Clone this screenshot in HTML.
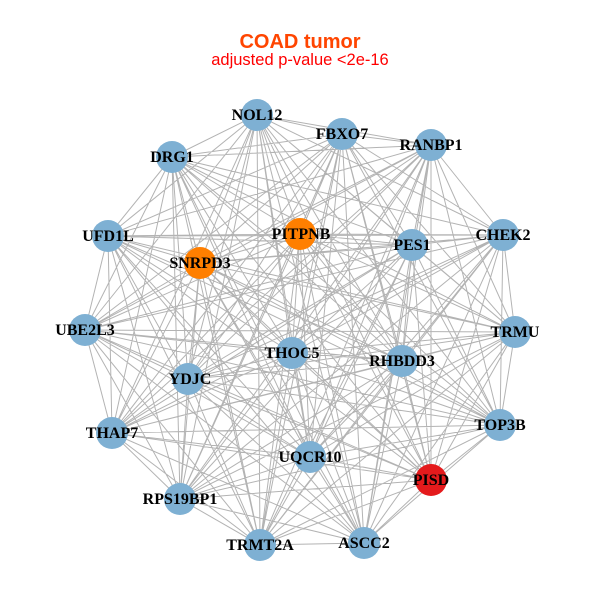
<!DOCTYPE html>
<html><head><meta charset="utf-8"><style>
html,body{margin:0;padding:0;background:#fff;}
svg{display:block;}
.lb{font-family:"Liberation Serif",serif;font-weight:bold;font-size:16px;fill:#000;text-anchor:middle;}
</style></head><body>
<svg id="s" width="600" height="600" viewBox="0 0 600 600" xmlns="http://www.w3.org/2000/svg">
<rect width="600" height="600" fill="#fff"/>
<text x="300" y="48" text-anchor="middle" font-family="Liberation Sans, sans-serif" font-weight="bold" font-size="20" fill="#FF4500">COAD tumor</text>
<text x="300" y="65" text-anchor="middle" font-family="Liberation Sans, sans-serif" font-size="16.5" fill="#FF0000">adjusted p-value &lt;2e-16</text>
<g id="edges" stroke="#b3b3b3" stroke-width="1" fill="none"></g>
<g id="nodes">
<circle cx="257" cy="115" r="16" fill="#7EB0D3"/>
<circle cx="342" cy="134" r="16" fill="#7EB0D3"/>
<circle cx="431" cy="145" r="16" fill="#7EB0D3"/>
<circle cx="172" cy="157" r="16" fill="#7EB0D3"/>
<circle cx="503" cy="235" r="16" fill="#7EB0D3"/>
<circle cx="300" cy="234" r="16" fill="#FF7F00"/>
<circle cx="412" cy="245" r="16" fill="#7EB0D3"/>
<circle cx="108" cy="236" r="16" fill="#7EB0D3"/>
<circle cx="200" cy="263" r="16" fill="#FF7F00"/>
<circle cx="85" cy="330" r="16" fill="#7EB0D3"/>
<circle cx="515" cy="332" r="16" fill="#7EB0D3"/>
<circle cx="292" cy="353" r="16" fill="#7EB0D3"/>
<circle cx="402" cy="361" r="16" fill="#7EB0D3"/>
<circle cx="188" cy="379" r="16" fill="#7EB0D3"/>
<circle cx="112" cy="433" r="16" fill="#7EB0D3"/>
<circle cx="500" cy="425" r="16" fill="#7EB0D3"/>
<circle cx="310" cy="457" r="16" fill="#7EB0D3"/>
<circle cx="431" cy="480" r="16" fill="#E41A1C"/>
<circle cx="180" cy="499" r="16" fill="#7EB0D3"/>
<circle cx="260" cy="545" r="16" fill="#7EB0D3"/>
<circle cx="364" cy="543" r="16" fill="#7EB0D3"/>
</g>
<g>
<text class="lb" x="257" y="120">NOL12</text>
<text class="lb" x="342" y="139">FBXO7</text>
<text class="lb" x="431" y="150">RANBP1</text>
<text class="lb" x="172" y="162">DRG1</text>
<text class="lb" x="503" y="240">CHEK2</text>
<text class="lb" x="301" y="239">PITPNB</text>
<text class="lb" x="412" y="250">PES1</text>
<text class="lb" x="108" y="241">UFD1L</text>
<text class="lb" x="200" y="268">SNRPD3</text>
<text class="lb" x="85" y="335">UBE2L3</text>
<text class="lb" x="515" y="337">TRMU</text>
<text class="lb" x="292" y="358">THOC5</text>
<text class="lb" x="402" y="366">RHBDD3</text>
<text class="lb" x="190" y="384">YDJC</text>
<text class="lb" x="112" y="438">THAP7</text>
<text class="lb" x="500" y="430">TOP3B</text>
<text class="lb" x="310" y="462">UQCR10</text>
<text class="lb" x="431" y="485">PISD</text>
<text class="lb" x="180" y="504">RPS19BP1</text>
<text class="lb" x="260" y="550">TRMT2A</text>
<text class="lb" x="364" y="548">ASCC2</text>
</g>
</svg>
<script>
(function(){
var p=[[257,115],[342,134],[431,145],[172,157],[503,235],[300,234],[412,245],[108,236],[200,263],[85,330],[515,332],[292,353],[402,361],[188,379],[112,433],[500,425],[310,457],[431,480],[180,499],[260,545],[364,543]];
var d="";
for(var i=0;i<p.length;i++){for(var j=i+1;j<p.length;j++){d+="M"+p[i][0]+" "+p[i][1]+"L"+p[j][0]+" "+p[j][1];}}
var ns="http://www.w3.org/2000/svg";
var path=document.createElementNS(ns,"path");
path.setAttribute("d",d);
document.getElementById("edges").appendChild(path);
})();
</script>
</body></html>
